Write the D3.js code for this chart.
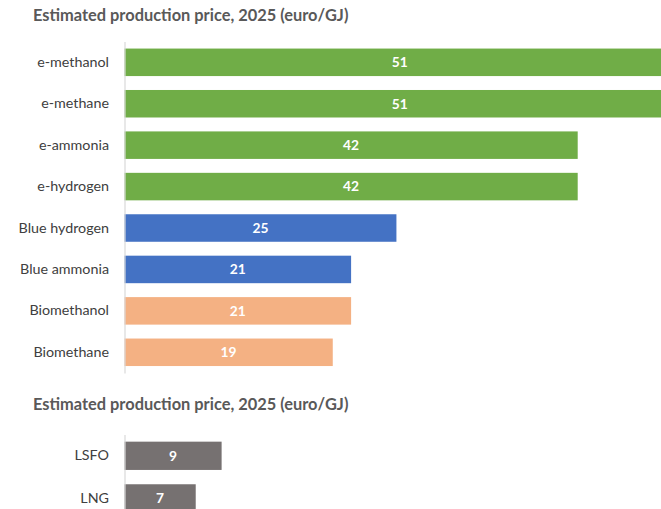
<!DOCTYPE html>
<html><head><meta charset="utf-8">
<script src="https://cdn.jsdelivr.net/npm/d3@7"></script>
<style>
html,body{margin:0;padding:0;background:#fff;overflow:hidden}
text{font-family:Lato,"Open Sans",sans-serif}
</style></head>
<body><svg id="c" width="661" height="509"></svg>
<script>
const titleText = "Estimated production price, 2025 (euro/GJ)";
const topCategories = ["e-methanol","e-methane","e-ammonia","e-hydrogen","Blue hydrogen","Blue ammonia","Biomethanol","Biomethane"];
const topValues = [51, 51, 42, 42, 25.2, 21, 21, 19.3];
const topLabels = ["51","51","42","42","25","21","21","19"];
const topGroups = ["e","e","e","e","blue","blue","bio","bio"];
const bottomCategories = ["LSFO","LNG"];
const bottomValues = [9, 6.6];
const bottomLabels = ["9","7"];
const bottomGroups = ["fossil","fossil"];

const colors = {e:"#70AD47", blue:"#4472C4", bio:"#F4B183", fossil:"#767171"};
const svg = d3.select("#c");
const x0 = 124.5;
const x = d3.scaleLinear().domain([0, 42]).range([x0, 577.7]);

function panel(cats, vals, labels, groups, y0, y1, titleY){
  const g = svg.append("g");
  g.append("text").attr("x", 33).attr("y", titleY)
    .attr("font-size", 16.4).attr("font-weight", 700).attr("fill", "#595959")
    .text(titleText);
  const y = d3.scaleBand().domain(cats).range([y0, y1]).paddingInner(0.336).paddingOuter(0.168);
  g.selectAll("rect.bar").data(cats).join("rect").attr("class","bar")
    .attr("x", x(0)).attr("y", d => y(d))
    .attr("width", (d,i) => x(vals[i]) - x(0)).attr("height", y.bandwidth())
    .attr("fill", (d,i) => colors[groups[i]]);
  const ax = d3.axisLeft(y).tickSize(0).tickPadding(15.5);
  const axg = g.append("g").attr("transform", `translate(${x0},0)`).call(ax);
  axg.select(".domain").attr("stroke", "#d9d9d9").attr("stroke-width", 1.2);
  axg.selectAll("text").attr("font-size", 14.3).attr("fill", "#404040")
    .attr("font-family", "Lato, 'Open Sans', sans-serif");
  g.selectAll("text.val").data(cats).join("text").attr("class","val")
    .attr("x", (d,i) => (x(0) + x(vals[i])) / 2)
    .attr("y", d => y(d) + y.bandwidth()/2)
    .attr("dy", "0.35em").attr("text-anchor", "middle")
    .attr("font-size", 13.8).attr("font-weight", 700).attr("fill", "#fff")
    .text((d,i) => labels[i]);
}
panel(topCategories, topValues, topLabels, topGroups, 41.6, 373, 21);
panel(bottomCategories, bottomValues, bottomLabels, bottomGroups, 434.5, 519.7, 409.5);
</script></body></html>
